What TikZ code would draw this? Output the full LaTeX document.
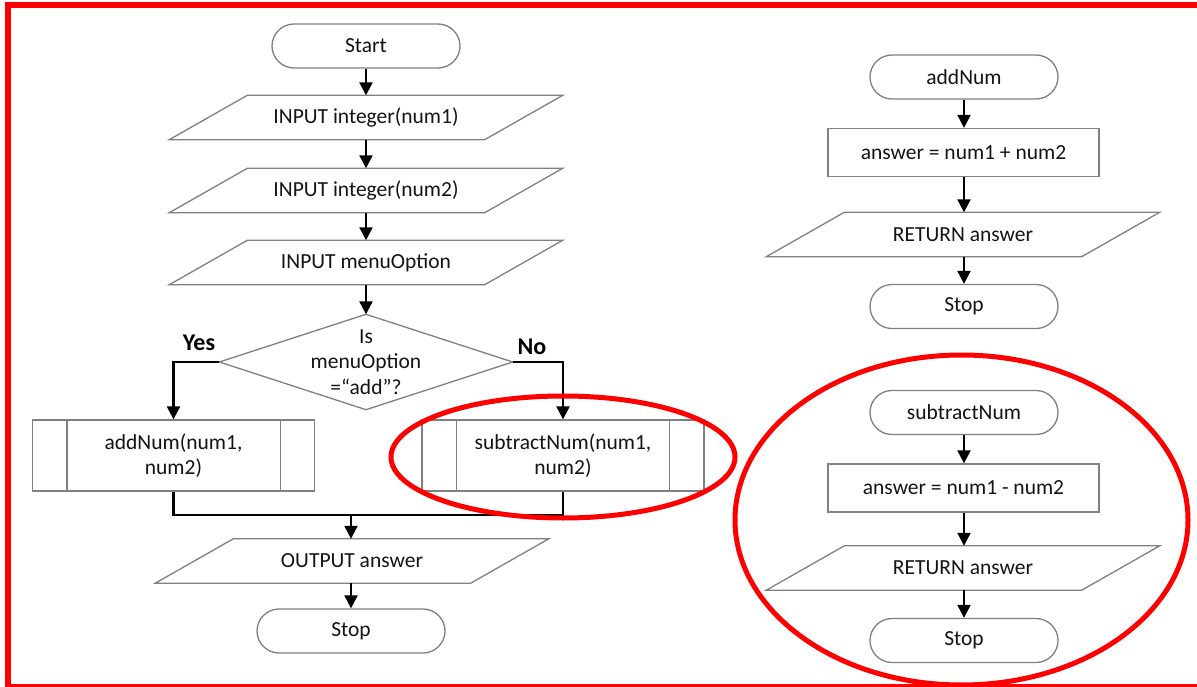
\documentclass[tikz,border=0pt]{standalone}
\usepackage{fontspec}
\setmainfont{Carlito}
\usetikzlibrary{arrows.meta,calc}
\newcommand\txtfont{\fontsize{21.5}{25.5}\selectfont}
\newcommand\lblfont{\fontsize{24}{28}\selectfont\bfseries}
\newcommand\para[1]{\draw[shp] ([xshift=39pt]#1.north west) -- ([xshift=39pt]#1.north east) -- ([xshift=-39pt]#1.south east) -- ([xshift=-39pt]#1.south west) -- cycle;}
\newcommand\predef[1]{\draw[shp] ([xshift=35pt]#1.north west) -- ([xshift=35pt]#1.south west);
  \draw[shp] ([xshift=-35pt]#1.north east) -- ([xshift=-35pt]#1.south east);}
\tikzset{
  shp/.style={draw=black!50, line width=1.3pt},
  base/.style={inner sep=0pt, font=\txtfont, text=black!92, align=center},
  term/.style={base, shp, rounded corners=22pt, minimum width=188pt, minimum height=44pt},
  iobox/.style={base, minimum width=315pt, minimum height=44pt},
  proc/.style={base, shp, minimum width=271pt, minimum height=48pt},
  sub/.style={base, shp, minimum width=282pt, minimum height=71pt},
  decbox/.style={base, minimum width=293pt, minimum height=95pt},
  arr/.style={draw=black, line width=2.2pt, -{Triangle[length=13pt,width=13pt]}},
  conn/.style={draw=black, line width=2.2pt},
  lbl/.style={font=\lblfont, text=black, inner sep=0pt},
  ring/.style={draw=red, line width=5pt}
}
\begin{document}
\begin{tikzpicture}[x=1pt,y=-1pt]
\useasboundingbox (0,0) rectangle (1197,687);
\clip (0,0) rectangle (1197,687);
\fill[white] (0,0) rectangle (1197,687);
\draw[red, line width=6pt] (8,5) rectangle (1210,687);

% main flow
\node[term] (start) at (366,46) {Start};
\node[iobox] (in1) at (366,117.5) {INPUT integer(num1)};
\node[iobox] (in2) at (366,190.5) {INPUT integer(num2)};
\node[iobox] (menu) at (366,262.5) {INPUT menuOption};
\node[decbox] (dec) at (366,362) {Is\\menuOption\\=“add”?};
\node[sub] (add) at (173.5,455.5) {addNum(num1,\\num2)};
\node[sub] (subn) at (563,455.5) {subtractNum(num1,\\num2)};
\node[iobox] (out) at (352,561) {OUTPUT answer};
\node[term] (stop1) at (351,631) {Stop};
\coordinate (m) at (351,515);

\para{in1}
\para{in2}
\para{menu}
\para{out}
\draw[shp] (dec.north) -- (dec.east) -- (dec.south) -- (dec.west) -- cycle;
\predef{add}
\predef{subn}

\draw[arr] (start) -- (in1);
\draw[arr] (in1) -- (in2);
\draw[arr] (in2) -- (menu);
\draw[arr] (menu) -- (dec.north);
\draw[arr] (dec.west) -| (add.north);
\draw[arr] (dec.east) -| (subn.north);
\draw[conn] (add.south) |- (m) -| (subn.south);
\draw[arr] (m) -- (m |- out.north);
\draw[arr] (out.south -| stop1.north) -- (stop1.north);

\node[lbl] (yes) at (199,343) {Yes};
\node[lbl] (no) at (532,347) {No};

% addNum subroutine
\node[term] (addT) at (964,77) {addNum};
\node[proc] (addP) at (963.5,152.5) {answer = num1 + num2};
\node[iobox] (addR) at (963,234.5) {RETURN answer};
\node[term] (addS) at (964,306.5) {Stop};
\para{addR}
\draw[arr] (addT) -- (addT |- addP.north);
\draw[arr] (addP.south -| addT) -- (addT |- addR.north);
\draw[arr] (addR.south -| addT) -- (addS);

% subtractNum subroutine
\node[term] (subT) at (964,412.5) {subtractNum};
\node[proc] (subP) at (963.5,488) {answer = num1 - num2};
\node[iobox] (subR) at (963,568) {RETURN answer};
\node[term] (subS) at (964,640.5) {Stop};
\para{subR}
\draw[arr] (subT) -- (subT |- subP.north);
\draw[arr] (subP.south -| subT) -- (subT |- subR.north);
\draw[arr] (subR.south -| subT) -- (subS);

% highlight rings
\draw[ring] (563,457) ellipse [x radius=172, y radius=61];
\draw[ring] (961.5,520) ellipse [x radius=226.5, y radius=165];
\end{tikzpicture}
\end{document}
